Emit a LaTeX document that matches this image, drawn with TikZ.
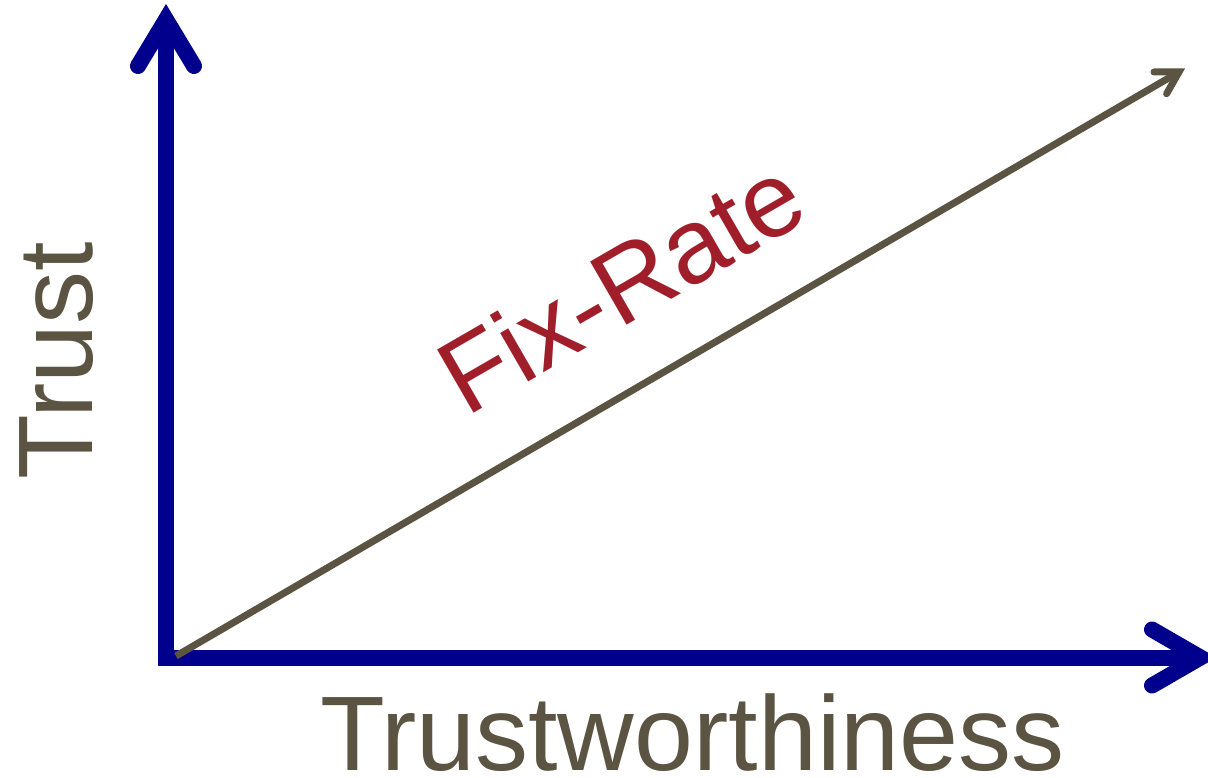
\documentclass[tikz,border=0pt]{standalone}
\usepackage{fontspec}
\setmainfont{Liberation Sans}
\definecolor{axisblue}{RGB}{0,0,140}
\definecolor{linegray}{RGB}{91,84,67}
\definecolor{labelred}{RGB}{160,30,42}
\begin{document}
\begin{tikzpicture}[x=1pt,y=-1pt,
  axisline/.style={draw=axisblue,line width=16pt,line cap=butt},
  axishead/.style={draw=axisblue,line width=16pt,line cap=round,line join=miter},
  rateline/.style={draw=linegray,line width=7pt,line cap=butt},
  ratehead/.style={draw=linegray,line width=7pt,line cap=round,line join=miter},
  axislabel/.style={inner sep=0pt,text=linegray,font=\fontsize{106}{106}\selectfont},
  ratelabel/.style={inner sep=0pt,text=labelred,font=\fontsize{106}{106}\selectfont}]
\useasboundingbox (0,0) rectangle (1208,778);
% vertical axis
\coordinate (ybot) at (166,666);
\coordinate (ytip) at (166,19.5);
\coordinate (ywl) at (138,66);
\coordinate (ywr) at (194,66);
\draw[axisline] (ybot) -- (ytip);
\draw[axishead] (ywl) -- (ytip) -- (ywr);
% horizontal axis
\coordinate (xleft) at (158,657.5);
\coordinate (xtip) at (1200.5,657.5);
\coordinate (xwu) at (1152,629.5);
\coordinate (xwd) at (1152,685.5);
\draw[axisline] (xleft) -- (xtip);
\draw[axishead] (xwu) -- (xtip) -- (xwd);
% fix-rate line
\coordinate (rstart) at (176,656);
\coordinate (rtip) at (1179,72);
\coordinate (rwa) at (1154,72);
\coordinate (rwb) at (1166.6,93.7);
\draw[rateline] (rstart) -- (rtip);
\draw[ratehead] (rwa) -- (rtip) -- (rwb);
% labels
\node[axislabel,rotate=90,anchor=base] (ylab) at (92,360.5) {Trust};
\node[axislabel,anchor=base] (xlab) at (692.5,770) {Trustworthiness};
\node[ratelabel,rotate=30,anchor=base west] (rlab) at (466,418) {Fix-Rate};
\end{tikzpicture}
\end{document}
